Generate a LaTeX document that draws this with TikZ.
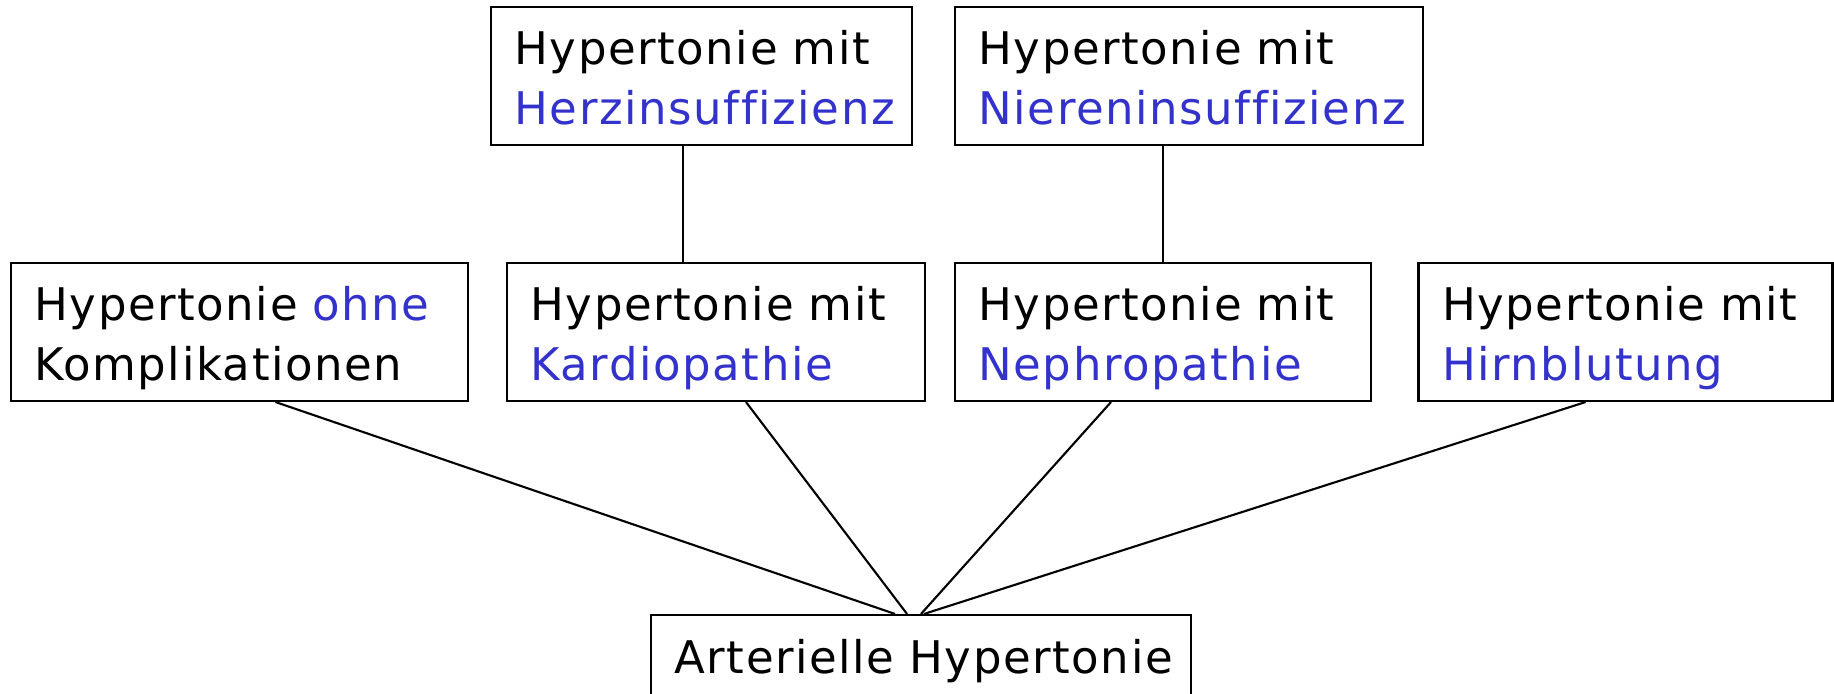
\documentclass[tikz,border=0pt]{standalone}
\usepackage{fontspec}
\setmainfont[Ligatures={NoCommon},LetterSpace=3.5]{DejaVu Sans}
\usetikzlibrary{calc}
\definecolor{accent}{RGB}{51,51,204}

\begin{document}
\begin{tikzpicture}
                      \tikzstyle{diag}=[draw=black,line width=0.6pt,inner xsep=2.35mm,inner ysep=1mm,align=left,text height=4.8mm,text depth=7mm,font=\fontsize{12.8}{17.07}\selectfont]
                      \clip (0,0) rectangle (18.34,6.93);
                      % obere Reihe
                      \node[diag,text width=3.74cm] (herz) at (7.015,6.17) {Hypertonie mit\\\textcolor{accent}{Herzinsuffizienz}};
                      \node[diag,text width=4.21cm] (nieren) at (11.89,6.17) {Hypertonie mit\\\textcolor{accent}{Niereninsuffizienz}};
                      % mittlere Reihe
                      \node[diag,text width=4.10cm] (ohne) at (2.395,3.61) {Hypertonie \textcolor{accent}{ohne}\\Komplikationen};
                      \node[diag,text width=3.71cm] (kardio) at (7.16,3.61) {Hypertonie mit\\\textcolor{accent}{Kardiopathie}};
                      \node[diag,text width=3.69cm] (nephro) at (11.63,3.61) {Hypertonie mit\\\textcolor{accent}{Nephropathie}};
                      \node[diag,text width=3.67cm] (hirn) at (16.255,3.61) {Hypertonie mit\\\textcolor{accent}{Hirnblutung}};
                      % unten
                      \node[diag,text width=4.93cm,text depth=2mm] (art) at (9.21,0.34) {\mbox{Arterielle Hypertonie}};
                      \draw[line width=0.6pt] ([xshift=-1.85mm]herz.south) -- ([xshift=-1.85mm]herz.south |- kardio.north);
                      \draw[line width=0.6pt] (nephro.north) -- (nephro.north |- nieren.south);
                      \draw[line width=0.6pt] ([xshift=3.6mm]ohne.south) -- ([xshift=-2.6mm]art.north);
                      \draw[line width=0.6pt] ([xshift=3mm]kardio.south) -- ([xshift=-1.4mm]art.north);
                      \draw[line width=0.6pt] ([xshift=-5.2mm]nephro.south) -- (art.north);
                      \draw[line width=0.6pt] ([xshift=-4mm]hirn.south) -- ([xshift=0.3mm]art.north);
                  \end{tikzpicture}
\end{document}
